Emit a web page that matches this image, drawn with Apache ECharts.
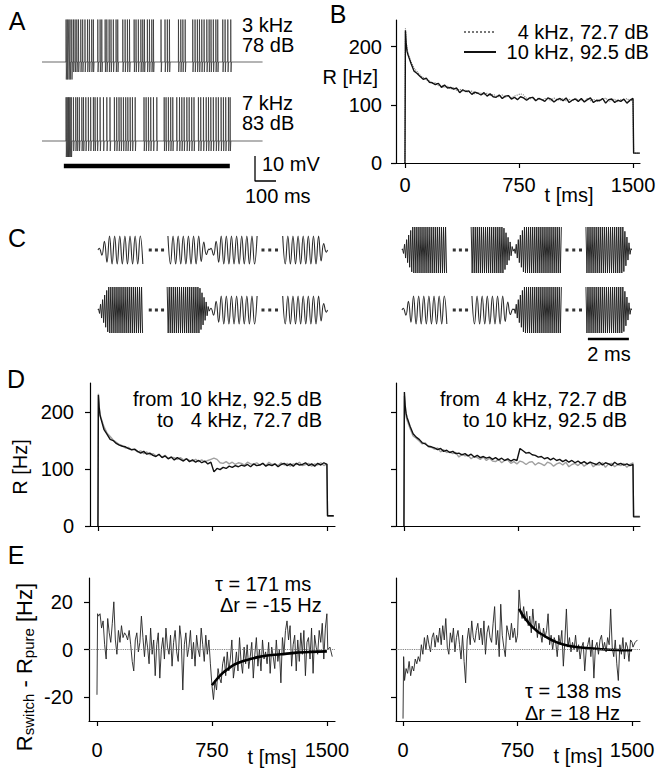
<!DOCTYPE html>
<html><head><meta charset="utf-8">
<script src="https://cdn.jsdelivr.net/npm/echarts@6/dist/echarts.min.js"></script>
<style>html,body{margin:0;padding:0;background:#fff}#c{width:662px;height:773px}</style>
</head><body><div id="c"></div>
<script>
// ================= DATA =================
// Panel A: spike times (ms after stimulus onset)
const spikeTimesTop = [0, 6, 13, 19, 27, 35, 43, 51, 59, 70, 79, 90, 102, 111, 122, 130, 151, 162, 170, 186, 194, 205, 214, 225, 238, 246, 270, 281, 292, 302, 324, 333, 344, 356, 365, 373, 387, 397, 408, 416, 452, 471, 482, 492, 535, 546, 556, 567, 603, 614, 625, 635, 646, 657, 670, 681, 690, 701, 713, 722, 746, 757, 770, 784];
const spikeTimesBottom = [0, 5, 10, 14, 19, 25, 35, 46, 54, 63, 75, 83, 94, 106, 117, 130, 138, 149, 162, 178, 194, 209, 230, 241, 252, 262, 273, 284, 294, 305, 316, 329, 371, 381, 392, 403, 416, 432, 467, 476, 487, 498, 508, 527, 540, 551, 562, 575, 586, 598, 609, 630, 641, 654, 667, 678, 689, 701, 714, 725, 738, 749, 760, 773, 781];
const spikePeakMv = [17, 17.5];          // top, bottom trace
const spikeTroughMv = [-4, -4];
const spikeOnsetTroughMv = [-7, -6.4];
const spikeOnsetMs = 30;
const traceSpanMs = [-114, 936];
const stimulusMs = [-10, 780];
const toneLabelsA = ['3 kHz', '78 dB', '7 kHz', '83 dB'];

// Panels B/D: firing rate R [Hz]; time grid = onset points, 20-ms bins, offset points
const rateOnsetT = [0, 3, 8, 14];
const rateBinMs = 20;
const rateEndT = [1504, 1545];
const pure4 = [0, 232, 210, 196,
  190, 174, 163, 157, 151, 147, 143, 141, 137, 138,
  133, 134, 130, 132, 127, 130, 125, 127, 123, 125,
  121, 124, 119, 121, 120, 117, 120, 116, 118, 115,
  114, 117, 113, 116, 112, 115, 117, 119, 117, 111,
  110, 113, 109, 112, 108, 111, 110, 107, 112, 109,
  108, 111, 107, 110, 106, 112, 108, 109, 106, 111,
  107, 110, 105, 109, 108, 112, 106, 108, 110, 105,
  109, 107, 111, 106, 109,
  17, 17];
const pure10 = [0, 228, 205, 192,
  186, 171, 158, 154, 149, 144, 146, 139, 138, 135,
  137, 130, 134, 129, 130, 127, 129, 121, 126, 123,
  124, 118, 122, 120, 117, 121, 115, 119, 114, 113,
  117, 111, 115, 116, 110, 113, 109, 114, 112, 108,
  112, 113, 107, 111, 109, 106, 112, 110, 105, 109,
  111, 107, 112, 104, 108, 110, 106, 111, 105, 109,
  112, 104, 108, 107, 111, 103, 109, 110, 104, 108,
  106, 110, 103, 108, 111,
  17, 17];
const switch10to4 = [0, 230, 208, 194,
  188, 169, 161, 152, 150, 145, 142, 140, 139, 136,
  134, 135, 131, 128, 131, 126, 128, 124, 122, 126,
  120, 123, 118, 121, 116, 120, 117, 114, 118, 113,
  116, 112, 115, 111, 114, 109, 112, 95, 101, 99,
  103, 101, 105, 103, 106, 104, 107, 105, 108, 104,
  109, 106, 107, 110, 105, 108, 106, 109, 104, 108,
  110, 106, 109, 105, 110, 107, 108, 111, 106, 109,
  105, 110, 107, 111, 108,
  18, 18];
const switch4to10 = [0, 235, 212, 198,
  191, 175, 162, 156, 152, 146, 144, 140, 139, 137,
  134, 136, 131, 133, 129, 131, 127, 128, 125, 127,
  123, 126, 121, 124, 120, 122, 119, 121, 117, 120,
  116, 119, 115, 118, 114, 117, 115, 136, 132, 128,
  129, 125, 124, 121, 122, 118, 120, 116, 119, 115,
  117, 113, 116, 112, 115, 111, 114, 110, 113, 109,
  112, 110, 108, 112, 107, 111, 109, 106, 112, 108,
  110, 107, 109, 106, 108,
  16, 16];
const legendB = ['4 kHz, 72.7 dB', '10 kHz, 92.5 dB'];

// Panel E: R_switch - R_pure [Hz]; time grid = onset points, 10-ms bins, tail points
const diffOnsetT = [0, 4];
const diffBinMs = 10;
const diffTailT = [1506, 1520, 1535];
const diffLeft = [-19, 15,
  14, 15, 9, 12, 2, -4, 13, 7, 3, 11,
  20, 4, -2, 8, 3, 10, 5, 7, 6, 4,
  8, 2, -5, -9, 4, 7, -1, 3, 14, 5,
  -3, 6, 1, -6, 9, -2, 4, -11, 2, 7,
  -12, 0, 5, -4, 9, 1, -2, 6, -7, 3,
  8, -1, -5, 10, 4, -17, 2, 7, -3, 1,
  8, -4, 3, -7, 6, 0, -3, 9, 2, -5,
  6, -2, 4, -6, -15, -21, -13, -17, -8, -12,
  -14, -6, -3, -11, -1, -9, -4, 4, -12, -7,
  -1, -9, 5, -5, -10, 1, -6, 2, -8, -3,
  3, -12, -2, 5, -7, 0, -9, 4, -4, -1,
  -6, 3, -10, 1, -3, -8, 4, -5, 0, -14,
  5, -2, 8, 12, 4, 10, -7, 2, 6, -9,
  4, -5, 7, -2, 8, -11, 3, 5, -4, 9,
  -10, 6, 1, -2, 8, 3, 11, -4, 9, 15,
  0, 1, -3];
const diffRight = [-29, -3,
  -13, -8, -10, -5, -11, -7, -9, -4, -6, -3,
  -5, 2, -2, 5, 0, 6, 2, -1, 5, 7,
  1, 6, 3, 9, 2, 10, 4, 13, 1, -2,
  7, 3, 9, -1, 5, 8, 2, -4, 6, -5,
  -14, 4, 9, 2, 12, 5, 3, 8, 11, 4,
  9, 2, 12, -2, 7, 10, 5, 3, 11, 18,
  2, 8, -3, 19, 6, 1, -3, 10, 7, 4,
  11, 5, 9, 3, 6, 25, 16, 13, 18, 12,
  16, 10, 14, 7, 17, 9, 12, 5, 11, 7,
  3, 9, 5, 8, 15, 2, 6, 0, 5, 3,
  -3, 6, 2, 8, -7, 4, 17, 1, 5, -1,
  3, 0, 6, -1, 2, -4, 1, 3, -9, 0,
  2, 5, -3, 4, -12, 1, 3, -2, 4, 6,
  0, 3, -1, 5, 2, 17, 1, -3, 4, -6,
  -13, 2, -2, 5, -4, 3, 1, -5, 4, 3,
  1, 3, 4];
const fitLeftT = [750, 775, 800, 825, 850, 875, 900, 950, 1000, 1050, 1100, 1200, 1300, 1400, 1500];
const fitLeftV = [-15, -13, -11.2, -9.6, -8.4, -7.2, -6.2, -4.9, -4.0, -3.2, -2.6, -2.0, -1.3, -1.0, -0.8];
const fitRightT = [760, 780, 800, 825, 850, 875, 900, 950, 1000, 1050, 1100, 1200, 1300, 1400, 1500];
const fitRightV = [17, 14.8, 13, 11, 9.3, 7.9, 6.7, 4.8, 3.2, 2.1, 1.4, 0.6, 0.1, -0.2, -0.3];

// Panel C: stimulus schematic (tone segments in ms, frequencies in kHz)
const cSegmentsMs = [[0, 2.2], [3.35, 5.45], [5.45, 7.8], [8.95, 11.2]];
const cRampsMs = [[0.5, 0], [0, 0.5], [0.5, 0], [0, 0.4]];
const cDotsMs = [2.55, 2.85, 3.15, 8.05, 8.38, 8.71];
const cFreqTopLeft = [4, 4, 4, 4];
const cFreqBottomLeft = [10, 10, 4, 4];
const cFreqTopRight = [10, 10, 10, 10];
const cFreqBottomRight = [4, 4, 10, 10];
const cAmp4 = 14, cAmp10 = 23;
const cScaleBarMs = 2;

const tickTimes = [0, 750, 1500];

// ================= BUILD =================
const FAMILY = "'Liberation Sans', Arial, Helvetica, sans-serif";

function gridTimes(onset, bin, last, tail) {
  const t = onset.slice();
  for (let x = bin; x <= last; x += bin) t.push(x);
  return t.concat(tail);
}
const rateT = gridTimes(rateOnsetT, rateBinMs, 1500, rateEndT);
const diffT = gridTimes(diffOnsetT, diffBinMs, 1500, diffTailT);
const pairs = (ts, vs) => ts.map((t, i) => [t, vs[i]]);

function spikeTrace(times, k) {
  const d = [[traceSpanMs[0], 0]];
  times.forEach(s => {
    const tr = s < spikeOnsetMs ? spikeOnsetTroughMv[k] : spikeTroughMv[k];
    d.push([s, 0], [s + 0.6, spikePeakMv[k]], [s + 1.8, tr], [s + 4, 0]);
  });
  d.push([traceSpanMs[1], 0]);
  return d;
}

function tonePip(seg, ramp, kHz) {
  const amp = kHz === 4 ? cAmp4 : cAmp10;
  const half = 0.5 / kHz;
  const [a, b] = seg, [ri, ro] = ramp;
  const pts = [];
  if (ri > 0) pts.push([a, 0]);
  let sign = 1;
  for (let t = a + half / 2; t < b; t += half) {
    let env = amp;
    if (ri > 0) env = Math.min(env, amp * (t - a) / ri);
    if (ro > 0) env = Math.min(env, amp * (b - t) / ro);
    pts.push([t, sign * env]);
    sign = -sign;
  }
  if (ro > 0) pts.push([b, 0]);
  return pts;
}

const axisLineStyle = { color: '#000', width: 1.2 };
function valAxis(gridIndex, min, max, ticks, labels, margin) {
  return {
    gridIndex, type: 'value', min, max,
    axisLine: { show: true, onZero: false, lineStyle: axisLineStyle },
    axisTick: { show: !!ticks, length: 5, lineStyle: axisLineStyle, customValues: ticks || [] },
    axisLabel: { show: !!labels, customValues: labels || [], fontSize: 20, fontFamily: FAMILY, color: '#000',
      margin: margin || 10, formatter: v => String(v) },
    splitLine: { show: false }
  };
}
const hidden = (gridIndex, min, max) => ({ gridIndex, type: 'value', min, max, show: false });

const grids = [
  { left: 42, top: 15, width: 238, height: 70 },    // 0 A top trace
  { left: 42, top: 90, width: 238, height: 70 },    // 1 A bottom trace
  { left: 42, top: 150, width: 238, height: 40 },   // 2 A bars
  { left: 396, top: 20, width: 244, height: 143 },  // 3 B
  { left: 98, top: 220, width: 232, height: 60 },   // 4 C TL
  { left: 98, top: 280, width: 232, height: 60 },   // 5 C BL
  { left: 402, top: 220, width: 232, height: 60 },  // 6 C TR
  { left: 402, top: 280, width: 232, height: 60 },  // 7 C BR
  { left: 90, top: 383, width: 245, height: 143 },  // 8 D L
  { left: 396, top: 383, width: 244, height: 143 }, // 9 D R
  { left: 89, top: 578, width: 246, height: 143 },  // 10 E L
  { left: 396, top: 578, width: 244, height: 143 }  // 11 E R
].map(g => Object.assign({ outerBoundsMode: 'none', containLabel: false }, g));

const xAxes = [
  hidden(0, -114, 1019), hidden(1, -114, 1019), hidden(2, -114, 1019),
  valAxis(3, -59, 1546, tickTimes, tickTimes, 12),
  hidden(4, 0, 11.32), hidden(5, 0, 11.32), hidden(6, 0, 11.32), hidden(7, 0, 11.32),
  valAxis(8, -52, 1553, tickTimes, null),
  valAxis(9, -52, 1546, tickTimes, null),
  valAxis(10, -52, 1553, tickTimes, tickTimes, 19),
  valAxis(11, -46, 1552, tickTimes, tickTimes, 19)
];
const yAxes = [
  hidden(0, -9.2, 18.8), hidden(1, -7.6, 20.4), hidden(2, 0, 16),
  valAxis(3, 0, 246, [0, 100, 200], [0, 100, 200], 14),
  hidden(4, -30, 30), hidden(5, -30, 30), hidden(6, -30, 30), hidden(7, -30, 30),
  valAxis(8, 0, 251, [0, 100, 200], [0, 100, 200], 16),
  valAxis(9, 0, 251, [0, 100, 200], null),
  valAxis(10, -30, 30, [-20, 0, 20], [-20, 0, 20], 16),
  valAxis(11, -30, 30, [-20, 0, 20], null)
];

const base = { type: 'line', symbol: 'none', showSymbol: false, silent: true, animation: false };
const line = (gi, name, data, style, extra) =>
  Object.assign({}, base, { name, xAxisIndex: gi, yAxisIndex: gi, data, lineStyle: style }, extra || {});

const series = [];
// A
series.push(line(0, 'A3k', spikeTrace(spikeTimesTop, 0), { color: '#2a2a2a', width: 0.7 }));
series.push(line(1, 'A7k', spikeTrace(spikeTimesBottom, 1), { color: '#2a2a2a', width: 0.7 }));
series.push(line(2, 'stim', [[stimulusMs[0], 9.6], [stimulusMs[1], 9.6]], { color: '#000', width: 4.5, cap: 'butt' }));
series.push(line(2, 'scale', [[900, 13.6], [900, 3.6], [1000, 3.6]], { color: '#000', width: 1.3 }));
// B
series.push(line(3, legendB[0], pairs(rateT, pure4), { color: '#777', width: 1.1, type: 'dotted' }, { itemStyle: { color: '#777' } }));
series.push(line(3, legendB[1], pairs(rateT, pure10), { color: '#111', width: 1.4 }, { itemStyle: { color: '#111' } }));
// C
[[4, cFreqTopLeft], [5, cFreqBottomLeft], [6, cFreqTopRight], [7, cFreqBottomRight]].forEach(([gi, freqs]) => {
  cSegmentsMs.forEach((seg, i) => {
    const f = freqs[i];
    series.push(line(gi, 'c', tonePip(seg, cRampsMs[i], f),
      { color: f === 4 ? '#2a2a2a' : '#1e1e1e', width: f === 4 ? 1.1 : 0.95 }, { smooth: f === 4 ? 0.45 : false }));
  });
  series.push({ type: 'scatter', xAxisIndex: gi, yAxisIndex: gi, silent: true, animation: false,
    symbol: 'rect', symbolSize: 3, itemStyle: { color: '#000' }, data: cDotsMs.map(t => [t, 0]) });
});
series.push(line(7, 'cscale', [[11.07 - cScaleBarMs, -29], [11.07, -29]], { color: '#000', width: 2.5, cap: 'butt' }));
// D
series.push(line(8, 'dl-pure', pairs(rateT, pure4), { color: '#a0a0a0', width: 1.4 }));
series.push(line(8, 'dl-sw', pairs(rateT, switch10to4), { color: '#111', width: 1.4 }));
series.push(line(9, 'dr-pure', pairs(rateT, pure10), { color: '#a0a0a0', width: 1.4 }));
series.push(line(9, 'dr-sw', pairs(rateT, switch4to10), { color: '#111', width: 1.4 }));
// E
const zeroLine = { silent: true, symbol: 'none', label: { show: false },
  lineStyle: { type: 'dotted', color: '#666', width: 0.9 }, data: [{ yAxis: 0 }] };
series.push(line(10, 'el', pairs(diffT, diffLeft), { color: '#222', width: 0.9 }, { markLine: zeroLine }));
series.push(line(10, 'elfit', pairs(fitLeftT, fitLeftV), { color: '#000', width: 2.6 }, { smooth: 0.3 }));
series.push(line(11, 'er', pairs(diffT, diffRight), { color: '#222', width: 0.9 }, { markLine: zeroLine }));
series.push(line(11, 'erfit', pairs(fitRightT, fitRightV), { color: '#000', width: 2.6 }, { smooth: 0.3 }));

function T(text, x, y, align, size, extra) {
  return Object.assign({ type: 'text', x, y, silent: true, z: 100,
    style: { text, x: 0, y: 0, fill: '#000', font: (size || 20) + 'px ' + FAMILY,
      textAlign: align || 'left', textVerticalAlign: 'middle' } }, extra || {});
}
const graphic = [
  T('A', 17, 21, 'center', 25), T('B', 338, 14, 'center', 25), T('C', 17, 238, 'center', 25),
  T('D', 16, 379, 'center', 25), T('E', 16, 555, 'center', 25),
  T(toneLabelsA[0], 242, 25), T(toneLabelsA[1], 242, 45),
  T(toneLabelsA[2], 242, 103), T(toneLabelsA[3], 242, 123),
  T('10 mV', 262, 164), T('100 ms', 245, 196),
  T('R [Hz]', 378, 77, 'right'), T('t [ms]', 569, 195, 'center'),
  T('2 ms', 609, 354, 'center'),
  T('from', 133, 399), T('10 kHz, 92.5 dB', 322, 399, 'right'),
  T('to', 157, 420), T('4 kHz, 72.7 dB', 322, 420, 'right'),
  T('from', 440, 399), T('4 kHz, 72.7 dB', 627, 399, 'right'),
  T('to', 463, 420), T('10 kHz, 92.5 dB', 627, 420, 'right'),
  T('R [Hz]', 20, 467, 'center', 20, { rotation: Math.PI / 2 }),
  T('\u03c4 = 171 ms', 215, 584), T('\u0394r = -15 Hz', 220, 605),
  T('\u03c4 = 138 ms', 525, 691), T('\u0394r = 18 Hz', 525, 713),
  T('t [ms]', 272, 757, 'center'), T('t [ms]', 578, 756, 'center'),
  { type: 'text', x: 24, y: 667, rotation: Math.PI / 2, silent: true, z: 100,
    style: { text: '{m|R}{s|switch}{m| - R}{s|pure}{m| [Hz]}', x: 0, y: 0, fill: '#000',
      textAlign: 'center', textVerticalAlign: 'middle',
      rich: { m: { fontSize: 22, fontFamily: FAMILY, lineHeight: 24, fill: '#000' },
              s: { fontSize: 15, fontFamily: FAMILY, lineHeight: 10, verticalAlign: 'bottom', fill: '#000' } } } }
];

const chart = echarts.init(document.getElementById('c'), null, { renderer: 'svg' });
chart.setOption({
  animation: false,
  backgroundColor: '#fff',
  textStyle: { fontFamily: FAMILY },
  grid: grids, xAxis: xAxes, yAxis: yAxes, series, graphic,
  legend: {
    data: legendB, orient: 'vertical', left: 463, top: 22, padding: 0, itemGap: 0,
    itemWidth: 32, itemHeight: 12, selectedMode: false,
    itemStyle: { opacity: 0, borderWidth: 0 },
    formatter: n => (n.charAt(0) === '4' ? '\u2007 ' : ' ') + n,
    textStyle: { fontSize: 20, fontFamily: FAMILY, color: '#000', lineHeight: 20 }
  }
});
</script></body></html>
